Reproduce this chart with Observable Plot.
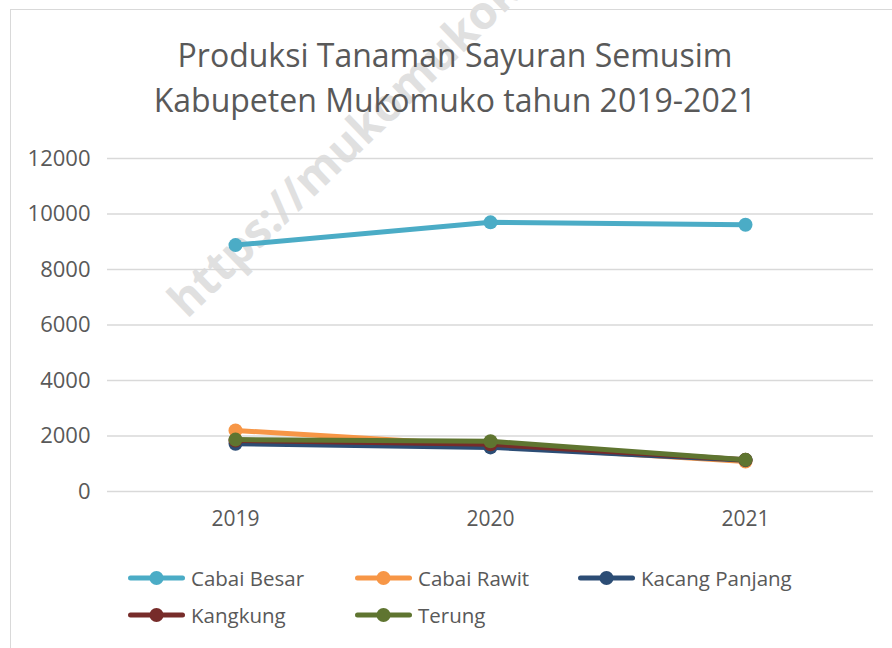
<!DOCTYPE html>
<html>
<head>
<meta charset="utf-8">
<script src="https://cdn.jsdelivr.net/npm/d3@7"></script>
<script src="https://cdn.jsdelivr.net/npm/@observablehq/plot@0.6"></script>
<style>
  html, body { margin: 0; padding: 0; background: #fff; overflow: hidden; }
  body { width: 892px; height: 648px; position: relative; font-family: "Open Sans", sans-serif; }
  #frame { position: absolute; left: 10px; top: 9px; width: 1000px; height: 1000px; border: 1px solid #d9d9d9; box-sizing: border-box; }
  #wm { position: absolute; left: 178px; top: 310px; white-space: nowrap; font: bold 46px "Open Sans", sans-serif; color: #e0e0e0;
        transform-origin: 0 0; transform: rotate(-44deg) translateY(-0.78em); }
  #title { position: absolute; left: 0; width: 892px; top: 32px; text-align: center; color: #595959;
           font-size: 32px; line-height: 45px; padding-left: 18px; box-sizing: border-box; }
  #chart { position: absolute; left: 0; top: 130px; }
  .leg { position: absolute; display: flex; align-items: center; color: #595959; font-size: 20.5px; height: 30px; }
  .leg svg { margin-right: 6px; }
</style>
</head>
<body>
<div id="frame"></div>
<div id="wm">https://mukomukokab.bps.go.id</div>
<div id="title">Produksi Tanaman Sayuran Semusim<br>Kabupeten Mukomuko tahun 2019-2021</div>
<div id="chart"></div>
<div id="legend"></div>
<script>
const years = ["2019", "2020", "2021"];
const seriesNames = ["Cabai Besar", "Cabai Rawit", "Kacang Panjang", "Kangkung", "Terung"];
const cabaiBesar = [8880, 9700, 9610];
const cabaiRawit = [2200, 1650, 1080];
const kacangPanjang = [1720, 1590, 1130];
const kangkung = [1840, 1700, 1140];
const terung = [1870, 1810, 1140];
const seriesValues = [cabaiBesar, cabaiRawit, kacangPanjang, kangkung, terung];
const seriesColors = ["#4bacc6", "#f79646", "#2c4d75", "#772c2a", "#5f7530"];
const yTicks = [0, 2000, 4000, 6000, 8000, 10000, 12000];

const rows = seriesNames.flatMap((s, i) => years.map((y, j) => ({ series: s, year: y, value: seriesValues[i][j] })));

const seriesMarks = seriesNames.flatMap((s) => {
  const d = rows.filter((r) => r.series === s);
  return [
    Plot.line(d, { x: "year", y: "value", stroke: "series", strokeWidth: 5, strokeLinecap: "round" }),
    Plot.dot(d, { x: "year", y: "value", fill: "series", r: 7 })
  ];
});

const chart = Plot.plot({
  width: 892,
  height: 410,
  marginLeft: 107,
  marginRight: 19,
  marginTop: 28,
  marginBottom: 49,
  style: { background: "transparent", fontFamily: "Open Sans, sans-serif", color: "#595959" },
  x: { type: "point", domain: years, padding: 0.5, label: null },
  y: { domain: [0, 12000], label: null },
  color: { domain: seriesNames, range: seriesColors },
  marks: [
    Plot.gridY(yTicks, { stroke: "#d9d9d9", strokeOpacity: 1, strokeWidth: 1.3 }),
    Plot.axisY(yTicks, { tickSize: 0, tickPadding: 17, fontSize: 22, fill: "#595959", label: null, tickFormat: (d) => String(d) }),
    Plot.axisX(years, { tickSize: 0, tickPadding: 20, fontSize: 21, fill: "#595959", label: null }),
    ...seriesMarks
  ]
});
document.getElementById("chart").appendChild(chart);

// legend
const legendPos = [[128, 563], [355, 563], [578, 563], [128, 600], [355, 600]];
const legend = document.getElementById("legend");
seriesNames.forEach((s, i) => {
  const item = document.createElement("div");
  item.className = "leg";
  item.style.left = legendPos[i][0] + "px";
  item.style.top = legendPos[i][1] + "px";
  const c = seriesColors[i];
  item.innerHTML = `<svg width="57" height="16"><line x1="2.5" x2="54.5" y1="8" y2="8" stroke="${c}" stroke-width="5" stroke-linecap="round"/><circle cx="28.5" cy="8" r="7" fill="${c}"/></svg><span>${s}</span>`;
  legend.appendChild(item);
});
</script>
</body>
</html>
